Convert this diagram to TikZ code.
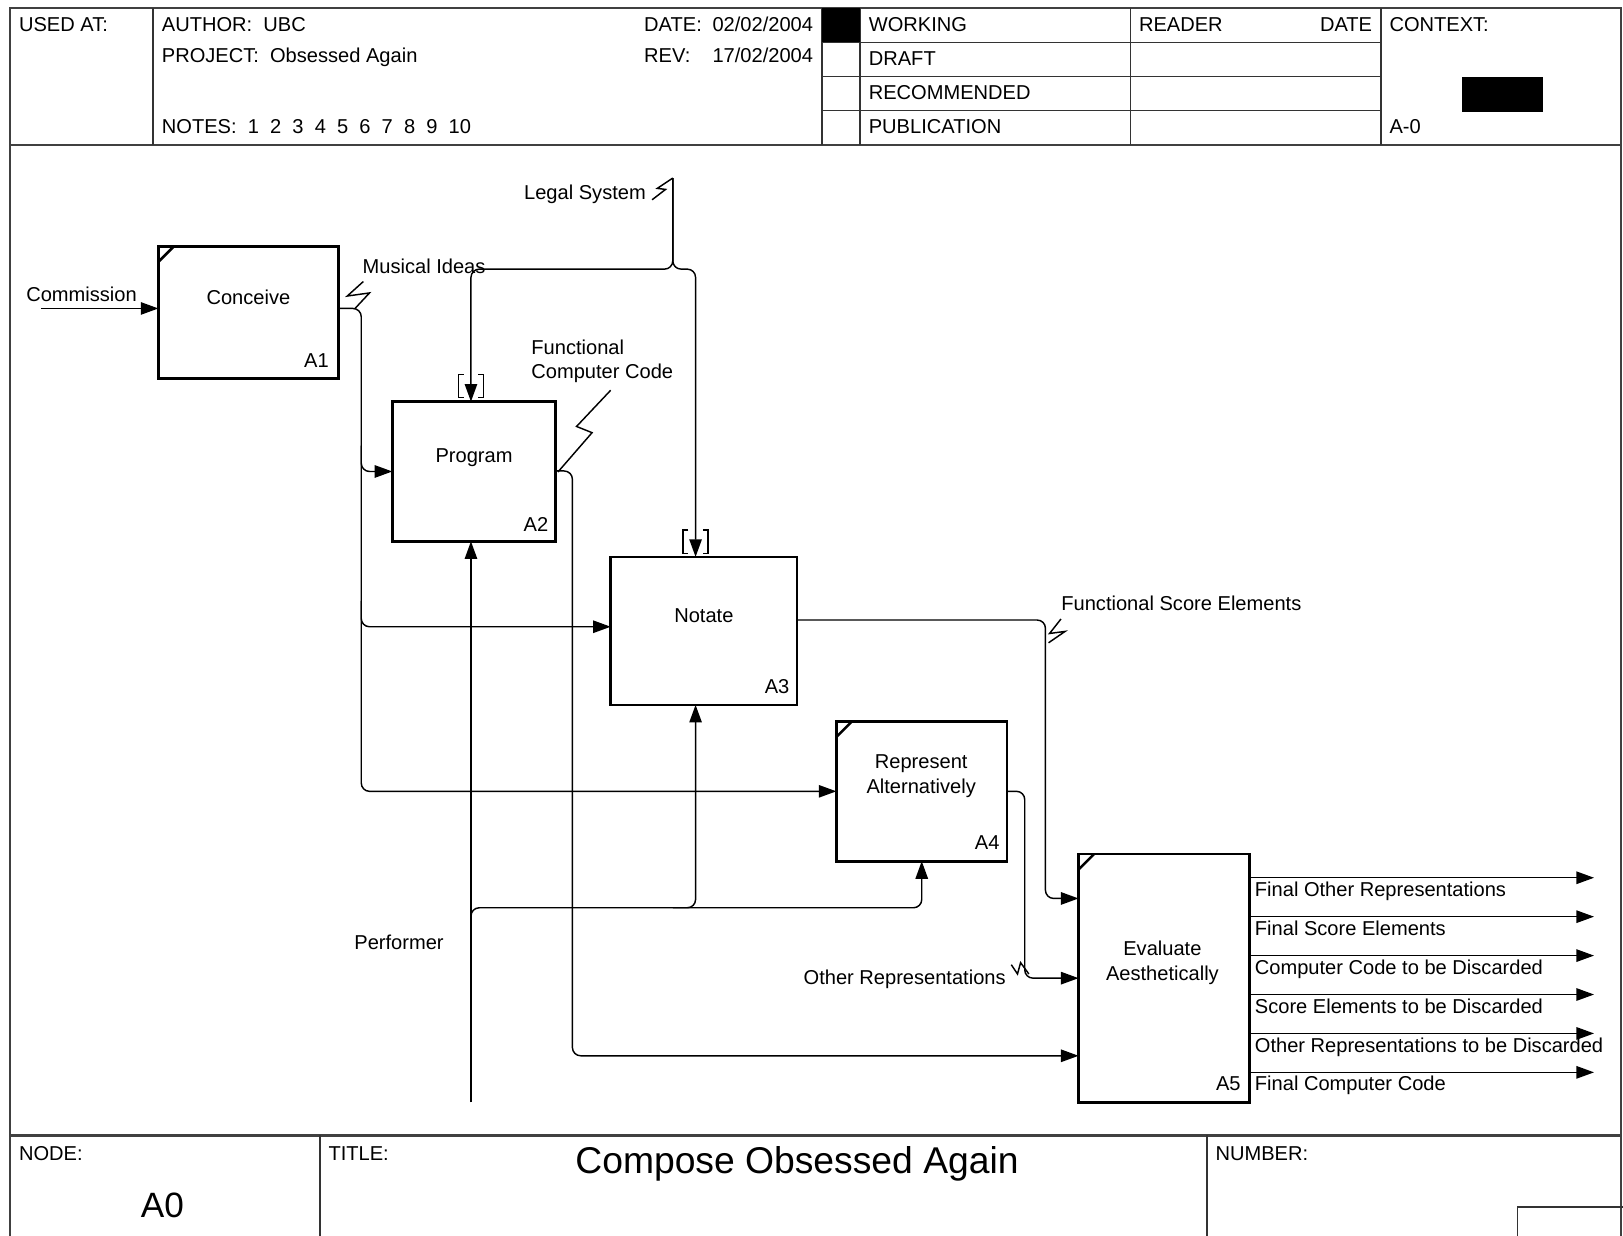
\documentclass[tikz,border=0pt]{standalone}
\usepackage{fontspec}
\setmainfont{Liberation Sans}
\usetikzlibrary{arrows.meta,calc}

\tikzset{
  txt/.style={font=\fontsize{9.7}{12}\selectfont, inner sep=0pt, text height=7pt, text depth=0pt},
  txtm/.style={font=\fontsize{9.7}{12}\selectfont, inner sep=0pt, align=center},
  act/.style={draw, line width=1.3pt, rectangle, outer sep=0pt, inner sep=0pt},
  tick/.style={line width=1.2pt},
  flow/.style={line width=0.7pt, rounded corners=4pt},
  arr/.style={flow, -{Triangle[length=8.5pt,width=6pt]}},
  squig/.style={line width=0.7pt},
  rule/.style={line width=1.1pt, draw=black!75},
  grid/.style={line width=0.7pt, draw=black!80},
}

\begin{document}
\begin{tikzpicture}[x=0.5pt,y=-0.5pt]
\useasboundingbox (0,0) rectangle (1568,1194);

% frame
\draw[rule] (10,1200) -- (10,8) -- (1566,8) -- (1566,1200);
\draw[rule] (10,140) -- (1566,140);
\draw[rule] (10,1097) -- (1566,1097);

% header
\foreach \x in {148,794,831,1092,1334}
  \draw[grid] (\x,8) -- (\x,140);
\foreach \y in {41,74,107}
  \draw[grid] (794,\y) -- (1334,\y);
\fill (794,8) rectangle (831,41);
\fill (1412,74) rectangle (1491,108);

\node[txt, anchor=west] (usedat) at (18,23) {USED AT:};
\node[txt, anchor=west] (author) at (156,23) {AUTHOR:~~UBC};
\node[txt, anchor=west] (project) at (156,53) {PROJECT:~~Obsessed Again};
\node[txt, anchor=west] (notes) at (156,122) {NOTES:~~1~~2~~3~~4~~5~~6~~7~~8~~9~~10};
\node[txt, anchor=west] (date) at (622,23) {\makebox[33pt][l]{DATE:}02/02/2004};
\node[txt, anchor=west] (rev) at (622,53) {\makebox[33pt][l]{REV:}17/02/2004};
\node[txt, anchor=west] (working) at (839,23) {WORKING};
\node[txt, anchor=west] (draft) at (839,56) {DRAFT};
\node[txt, anchor=west] (recom) at (839,89) {RECOMMENDED};
\node[txt, anchor=west] (publ) at (839,122) {PUBLICATION};
\node[txt, anchor=west] (reader) at (1100,23) {READER};
\node[txt, anchor=east] (rdate) at (1326,23) {DATE};
\node[txt, anchor=west] (context) at (1342,23) {CONTEXT:};
\node[txt, anchor=west] (ctxnum) at (1342,122) {A-0};

% footer
\draw[grid] (309,1097) -- (309,1200);
\draw[grid] (1166,1097) -- (1166,1200);
\draw[grid] (1466,1200) |- (1570,1166);
\node[txt, anchor=west] (nodelbl) at (18,1114) {NODE:};
\node[txt, anchor=west] (titlelbl) at (317,1114) {TITLE:};
\node[txt, anchor=west] (numlbl) at (1174,1114) {NUMBER:};
\node[inner sep=0pt, font=\fontsize{17}{20}\selectfont] (nodeno) at (157,1165) {A0};
\node[inner sep=0pt, font=\fontsize{18}{21}\selectfont] (title) at (770,1124) {Compose Obsessed Again};

% activity boxes
\node[act, minimum width=87pt, minimum height=64pt] (A1) at (240,302) {};
\node[act, minimum width=79pt, minimum height=67.5pt] (A2) at (458,455.5) {};
\node[act, minimum width=90pt, minimum height=71.5pt] (A3) at (680,609.5) {};
\node[act, minimum width=82.5pt, minimum height=67.5pt] (A4) at (890.5,764.5) {};
\node[act, minimum width=82.5pt, minimum height=120pt] (A5) at (1124.5,945) {};

\draw[tick] ([yshift=-7.5pt]A1.north west) -- ([xshift=7.5pt]A1.north west);
\draw[tick] ([yshift=-7.5pt]A4.north west) -- ([xshift=7.5pt]A4.north west);
\draw[tick] ([yshift=-7.5pt]A5.north west) -- ([xshift=7.5pt]A5.north west);

\node[txt] (A1name) at (240,287) {Conceive};
\node[txt] (A2name) at (458,440) {Program};
\node[txt] (A3name) at (680,594) {Notate};
\node[txtm] (A4name) at (890,750) {Represent\\Alternatively};
\node[txtm] (A5name) at (1123,930) {Evaluate\\Aesthetically};
\node[txt, anchor=east] (A1num) at (318,348) {A1};
\node[txt, anchor=east] (A2num) at (530,506) {A2};
\node[txt, anchor=east] (A3num) at (763,663) {A3};
\node[txt, anchor=east] (A4num) at (966,814) {A4};
\node[txt, anchor=east] (A5num) at (1199,1047) {A5};

% arrow labels
\node[txt, anchor=west] (commlbl) at (25,284) {Commission};
\node[txt, anchor=west] (idealbl) at (350,257) {Musical Ideas};
\node[txt, anchor=west] (legallbl) at (506,186) {Legal System};
\node[txtm, align=left, anchor=west] (codelbl) at (513,349) {Functional\\Computer Code};
\node[txt, anchor=west] (scorelbl) at (1025,583) {Functional Score Elements};
\node[txt, anchor=west] (perflbl) at (342,910) {Performer};
\node[txt, anchor=west] (reprlbl) at (776,944) {Other Representations};

% junction points
\coordinate (comm) at (40,298);
\coordinate (ci) at (349,298);
\coordinate (lg) at (650,172);
\coordinate (lj) at (650,260);
\coordinate (pf) at (455,1065);
\coordinate (pj) at (455,877);
\coordinate (fc) at (553,455);
\coordinate (fs) at (1010,599);
\coordinate (orp) at (990,765);
\coordinate (a3in) at ($(A3.west)+(0,-4)$);
\coordinate (a3top) at ($(A3.north)+(-8,0)$);
\coordinate (a3bot) at ($(A3.south)+(-8,0)$);
\coordinate (a5a) at ($(A5.north west)+(0,43)$);
\coordinate (a5c) at ($(A5.south west)+(0,-45)$);

% inputs
\draw[arr] (comm) -- (comm -| A1.west);
\draw[arr] (A1.east |- ci) -- (ci) |- (A4.west);
\draw[arr] ($(ci |- A2.west)+(0,-25)$) |- (A2.west);
\draw[arr] ($(ci |- a3in)+(0,-25)$) |- (a3in);

% controls
\draw[arr] (lg) -- (lj) -| (pf |- A2.north);
\draw[arr] (lg) -- (lj) -| (a3top);

% mechanisms
\draw[arr] (pf) -- (pf |- A2.south);
\draw[arr] ($(pj)+(0,25)$) -- (pj) -| (A4.south);
\draw[arr] ($(pj |- A4.south)+(195,45)$) -| (a3bot);

% internal outputs
\draw[arr] (A2.east |- fc) -- (fc) |- (a5c);
\draw[arr] (A3.east |- fs) -- (fs) |- (a5a);
\draw[arr] (A4.east) -- (orp |- A4.east) |- (A5.west);

% outputs
\foreach \t [count=\k] in {Final Other Representations, Final Score Elements,
    Computer Code to be Discarded, Score Elements to be Discarded,
    Other Representations to be Discarded, Final Computer Code} {
  \coordinate (o\k) at (1540,{848+37.6*(\k-1)});
  \draw[arr] (A5.east |- o\k) -- (o\k);
  \node[txt, anchor=west] (out\k) at (1212,{859+37.6*(\k-1)}) {\t};
}

% squiggles
\draw[squig] (343,298) -- (357,283) -- (335.5,286) -- (351,272);
\draw[squig] (630,193) -- (643,183) -- (635,182) -- (650,172);
\draw[squig] (539,456) -- (572,418) -- (557,412) -- (590,377);
\draw[squig] (1013,621) -- (1029,610) -- (1014,612) -- (1025,598);
\draw[squig] (977,932) -- (983,941) -- (986,930) -- (994,941);

% tunnel brackets
\draw[squig] (448,362) -- (443,362) -- (443,384) -- (448,384);
\draw[squig] (462,362) -- (467,362) -- (467,384) -- (462,384);
\draw[squig] (665,512) -- (660,512) -- (660,535) -- (665,535);
\draw[squig] (679,512) -- (684,512) -- (684,535) -- (679,535);
\end{tikzpicture}
\end{document}
